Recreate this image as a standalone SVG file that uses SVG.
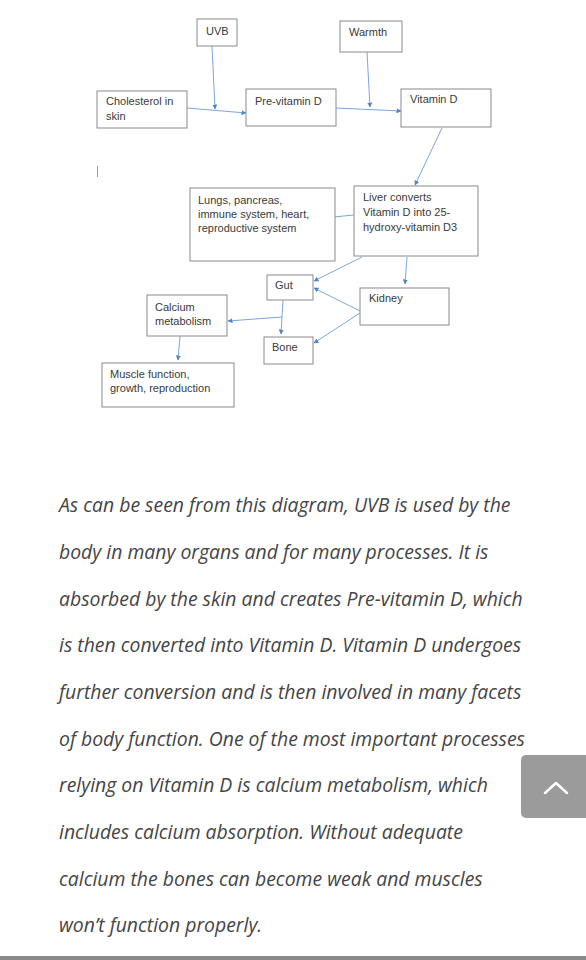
<svg xmlns="http://www.w3.org/2000/svg" width="586" height="960" viewBox="0 0 586 960">
<style>
.box{fill:#fff;stroke:#8a8a8a;stroke-width:1}
.lbl{font-family:"Liberation Sans",Arial,sans-serif;font-size:11px;fill:#3a3a3a}
.con{stroke:#7aa7db;stroke-width:1;fill:none;marker-end:url(#ah)}
.para{font-family:"Open Sans",sans-serif;font-style:italic;font-size:19.4px;fill:#454545}
</style>
<defs>
<marker id="ah" viewBox="0 0 10 10" refX="9" refY="5" markerWidth="5" markerHeight="5" orient="auto" markerUnits="userSpaceOnUse">
<path d="M0,0 L10,5 L0,10 z" fill="#4a86c8"/>
</marker>
</defs>
<rect width="586" height="960" fill="#fff"/>
<g id="connectors">
<line class="con" x1="212" y1="46" x2="215" y2="109"/>
<line class="con" x1="187" y1="108" x2="246" y2="113"/>
<line class="con" x1="367" y1="52" x2="370" y2="107"/>
<line class="con" x1="336" y1="108" x2="401" y2="111"/>
<line class="con" x1="442" y1="128" x2="415" y2="185"/>
<line class="con" x1="354" y1="215" x2="323" y2="218"/>
<line class="con" x1="362" y1="257" x2="314" y2="281"/>
<line class="con" x1="407" y1="257" x2="405" y2="284"/>
<line class="con" x1="360" y1="311" x2="314" y2="288"/>
<line class="con" x1="360" y1="313" x2="314" y2="343"/>
<line class="con" x1="283" y1="300" x2="281" y2="334"/>
<line class="con" x1="282" y1="317" x2="228" y2="321"/>
<line class="con" x1="180" y1="336" x2="178" y2="360"/>
</g>
<line x1="97.5" y1="166" x2="97.5" y2="177" stroke="#999" stroke-width="1"/>
<g id="uvb"><rect class="box" x="197" y="19" width="40" height="27"/><text class="lbl" x="206" y="35" font-size="9">UVB</text></g>
<g id="cholesterol"><rect class="box" x="97" y="91" width="90" height="37"/><text class="lbl" x="106" y="105">Cholesterol in</text><text class="lbl" x="106" y="120">skin</text></g>
<g id="previtd"><rect class="box" x="246" y="89" width="90" height="37"/><text class="lbl" x="255" y="105">Pre-vitamin D</text></g>
<g id="warmth"><rect class="box" x="340" y="21" width="62" height="31"/><text class="lbl" x="349" y="36">Warmth</text></g>
<g id="vitd"><rect class="box" x="401" y="89" width="90" height="38"/><text class="lbl" x="410" y="103">Vitamin D</text></g>
<g id="lungs"><rect class="box" x="190" y="188" width="145" height="73"/><text class="lbl" x="198" y="204">Lungs, pancreas,</text><text class="lbl" x="198" y="218">immune system, heart,</text><text class="lbl" x="198" y="232">reproductive system</text></g>
<g id="liver"><rect class="box" x="354" y="186" width="124" height="70"/><text class="lbl" x="363" y="201">Liver converts</text><text class="lbl" x="363" y="216">Vitamin D into 25-</text><text class="lbl" x="363" y="231">hydroxy-vitamin D3</text></g>
<g id="gut"><rect class="box" x="267" y="275" width="46" height="25"/><text class="lbl" x="275" y="289">Gut</text></g>
<g id="kidney"><rect class="box" x="360" y="288" width="89" height="37"/><text class="lbl" x="369" y="302">Kidney</text></g>
<g id="calcium"><rect class="box" x="147" y="295" width="80" height="41"/><text class="lbl" x="155" y="311">Calcium</text><text class="lbl" x="155" y="325">metabolism</text></g>
<g id="bone"><rect class="box" x="264" y="337" width="49" height="27"/><text class="lbl" x="272" y="351">Bone</text></g>
<g id="muscle"><rect class="box" x="102" y="363" width="132" height="44"/><text class="lbl" x="110" y="378">Muscle function,</text><text class="lbl" x="110" y="392">growth, reproduction</text></g>
<g id="paragraph">
<text class="para" x="59" y="512">As can be seen from this diagram, UVB is used by the</text>
<text class="para" x="59" y="559">body in many organs and for many processes. It is</text>
<text class="para" x="59" y="606">absorbed by the skin and creates Pre-vitamin D, which</text>
<text class="para" x="59" y="652">is then converted into Vitamin D. Vitamin D undergoes</text>
<text class="para" x="59" y="699">further conversion and is then involved in many facets</text>
<text class="para" x="59" y="746">of body function. One of the most important processes</text>
<text class="para" x="59" y="792">relying on Vitamin D is calcium metabolism, which</text>
<text class="para" x="59" y="839">includes calcium absorption. Without adequate</text>
<text class="para" x="59" y="886">calcium the bones can become weak and muscles</text>
<text class="para" x="59" y="932">won’t function properly.</text>
</g>
<g id="scrolltop">
<rect x="521" y="755" width="72" height="63" rx="5" fill="#9b9b9b"/>
<polyline points="545,793 556,783 567,793" fill="none" stroke="#fff" stroke-width="2.5" stroke-linecap="round" stroke-linejoin="round"/>
</g>
<rect x="0" y="956" width="586" height="4" fill="#8a8a8a"/>
</svg>
